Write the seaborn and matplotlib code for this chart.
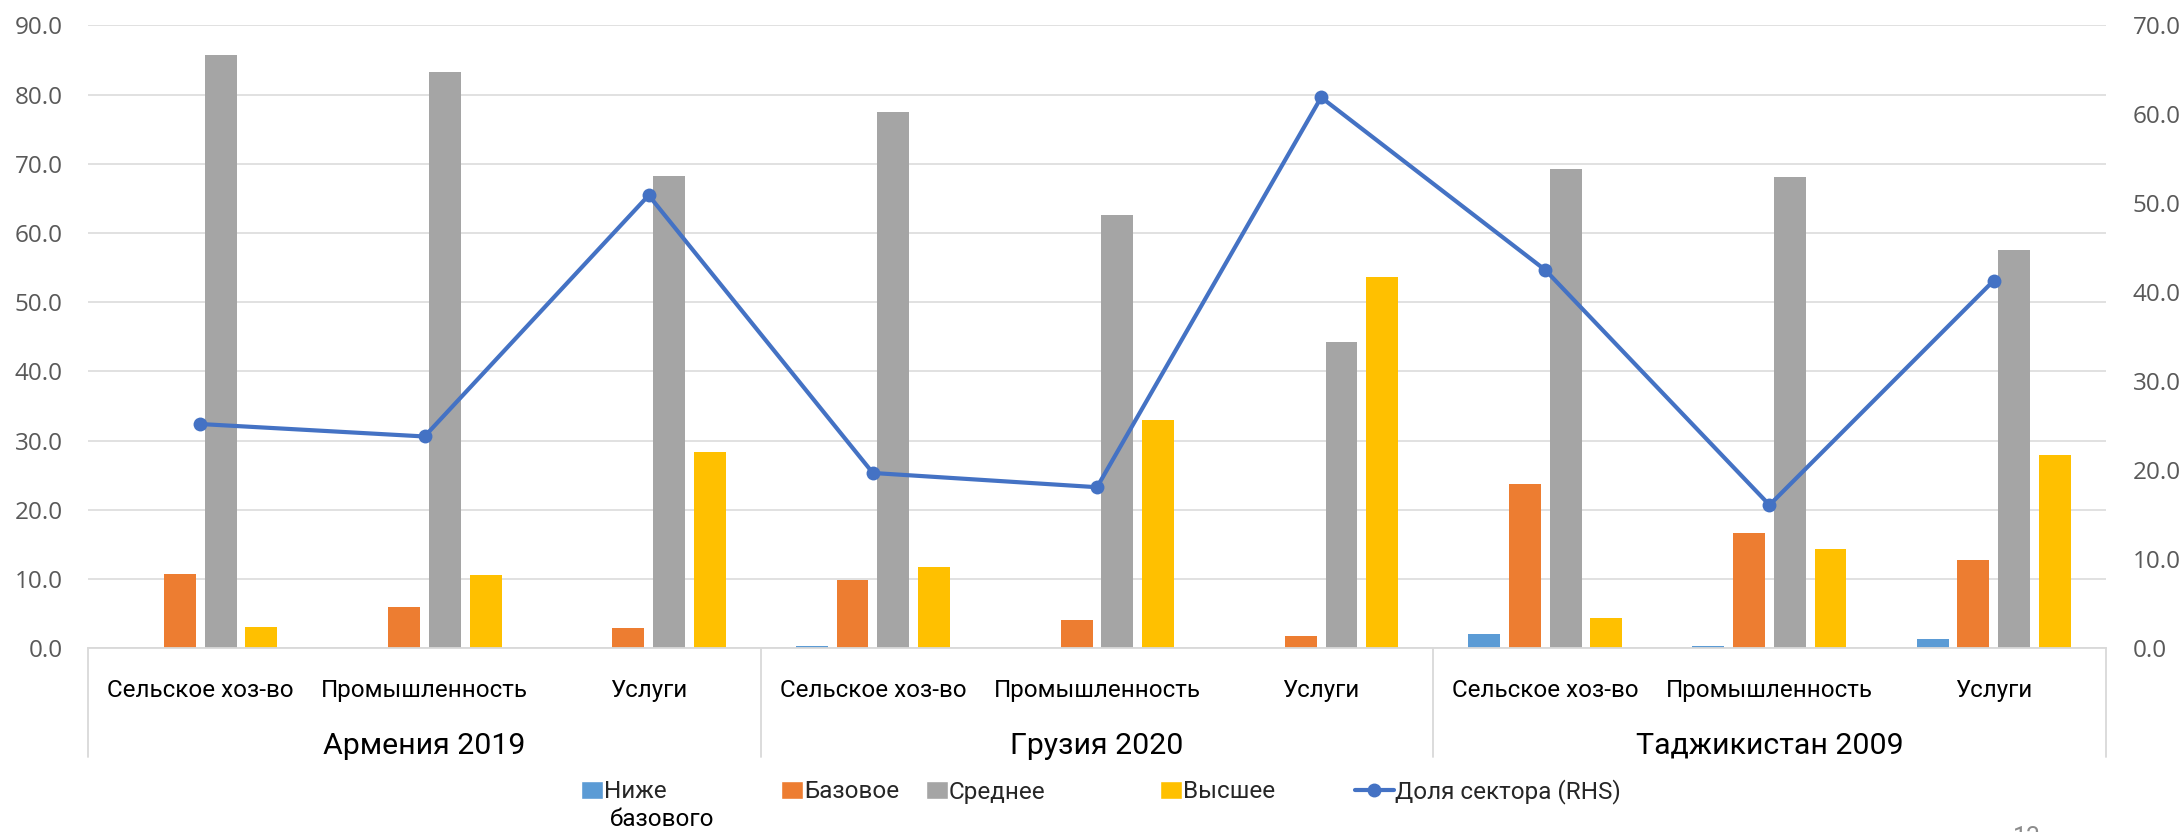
import numpy as np
import pandas as pd
import matplotlib
matplotlib.use("Agg")
import matplotlib.pyplot as plt
import matplotlib.transforms as mtransforms
from matplotlib.patches import Patch
from matplotlib.lines import Line2D
from matplotlib.ticker import FormatStrFormatter, MultipleLocator
import seaborn as sns

# ---------------- data ----------------
countries = ["Армения 2019", "Грузия 2020", "Таджикистан 2009"]
sectors = ["Сельское хоз-во", "Промышленность", "Услуги"]
levels = ["Ниже базового", "Базовое", "Среднее", "Высшее"]
below_basic = [0.0, 0.0, 0.0, 0.3, 0.0, 0.0, 2.1, 0.4, 1.4]
basic = [10.8, 6.0, 3.0, 9.8, 4.1, 1.8, 23.7, 16.7, 12.7]
secondary = [85.7, 83.2, 68.2, 77.5, 62.6, 44.3, 69.3, 68.1, 57.6]
higher = [3.1, 10.6, 28.3, 11.8, 33.0, 53.6, 4.4, 14.4, 27.9]
sector_share = [25.2, 23.8, 50.9, 19.7, 18.1, 61.9, 42.5, 16.1, 41.3]
line_label = "Доля сектора (RHS)"

colors = ["#5B9BD5", "#ED7D31", "#A5A5A5", "#FFC000"]
line_color = "#4472C4"
grid_color = "#D9D9D9"

keys = [f"{c}|{s}" for c in countries for s in sectors]
rows = []
for lvl, vals in zip(levels, [below_basic, basic, secondary, higher]):
    for k, v in zip(keys, vals):
        rows.append({"key": k, "level": lvl, "value": v})
df = pd.DataFrame(rows)
line_df = pd.DataFrame({"pos": np.arange(len(keys)), "share": sector_share})

# ---------------- style ----------------
sns.set_theme(style="white")
plt.rcParams["font.family"] = ["Open Sans", "DejaVu Sans"]
cat_font = ["Roboto", "DejaVu Sans"]

W, H = 2184, 832
fig = plt.figure(figsize=(W / 100, H / 100), dpi=100)
left, right, top, bottom = 88.3, 2105.7, 25.3, 648.3
ax = fig.add_axes([left / W, (H - bottom) / H, (right - left) / W, (bottom - top) / H])

sns.barplot(data=df, x="key", y="value", hue="level", order=keys, hue_order=levels,
            palette=colors, saturation=1, width=0.726, gap=0.214, errorbar=None,
            linewidth=0, legend=False, ax=ax)

ax.set_xlim(-0.5, len(keys) - 0.5)
ax.set_ylim(0, 90)
ax.yaxis.set_major_locator(MultipleLocator(10))
ax.yaxis.set_major_formatter(FormatStrFormatter("%.1f"))
ax.grid(axis="y", color=grid_color, linewidth=1.1)
ax.grid(axis="x", visible=False)
ax.set_axisbelow(True)
for sp in ["top", "right", "left"]:
    ax.spines[sp].set_visible(False)
ax.spines["bottom"].set_color(grid_color)
ax.spines["bottom"].set_linewidth(1.3)
ax.set_xlabel("")
ax.set_ylabel("")
ax.set_xticks([])
ax.tick_params(axis="y", length=0, pad=18.5, labelsize=17.5, labelcolor="#595959")

# secondary axis with line
ax2 = ax.twinx()
sns.lineplot(data=line_df, x="pos", y="share", ax=ax2, color=line_color,
             linewidth=3.0, marker="o", markersize=10, markeredgewidth=0)
ax2.set_ylim(0, 70)
ax2.yaxis.set_major_locator(MultipleLocator(10))
ax2.yaxis.set_major_formatter(FormatStrFormatter("%.1f"))
ax2.set_ylabel("")
ax2.set_xlabel("")
ax2.grid(False)
for sp in ax2.spines.values():
    sp.set_visible(False)
ax2.tick_params(axis="y", length=0, pad=19.4, labelsize=17.5, labelcolor="#595959")
ax2.set_xlim(-0.5, len(keys) - 0.5)

# category axis labels (two levels)
trans = mtransforms.blended_transform_factory(ax.transData, ax.transAxes)
ph = bottom - top
for i, k in enumerate(keys):
    s = k.split("|")[1]
    ax.text(i, -(697 - bottom) / ph, s, transform=trans, ha="center", va="baseline",
            fontsize=17.4, family=cat_font, color="black")
for j, c in enumerate(countries):
    ax.text(3 * j + 1, -(754 - bottom) / ph, c, transform=trans, ha="center", va="baseline",
            fontsize=21.8, family=cat_font, color="black")
for xb in [-0.5, 2.5, 5.5, 8.5]:
    ax.plot([xb, xb], [0, -(757 - bottom) / ph], transform=trans, color=grid_color,
            linewidth=1.3, clip_on=False)

# legend (Excel-like individual entries)
leg_font = 17.5
yc = 1 - 792 / H
entries = [
    (581, Patch(facecolor=colors[0]), "Ниже"),
    (781, Patch(facecolor=colors[1]), levels[1]),
    (926, Patch(facecolor=colors[2]), levels[2]),
    (1160, Patch(facecolor=colors[3]), levels[3]),
    (1355, Line2D([0], [0], color=line_color, lw=3, marker="o", markersize=9), line_label),
]
for x0, h, lab in entries:
    is_line = isinstance(h, Line2D)
    fig.legend(handles=[h], labels=[lab], loc="center left",
               bbox_to_anchor=(x0 / W, yc), frameon=False, borderpad=0, borderaxespad=0,
               handlelength=1.6 if is_line else 0.9, handleheight=0.72,
               handletextpad=0.05, prop={"family": cat_font, "size": leg_font})
fig.text(610 / W, 1 - 826 / H, "базового", ha="left", va="baseline",
         fontsize=leg_font, family=cat_font, color="black")

# slide number, mostly cut off at the bottom edge
fig.text(2027 / W, 1 - 826 / H, "13", ha="center", va="top", fontsize=18,
         color="#8C8C8C", family=cat_font)

fig.savefig("out.png", dpi=100, facecolor="white")
